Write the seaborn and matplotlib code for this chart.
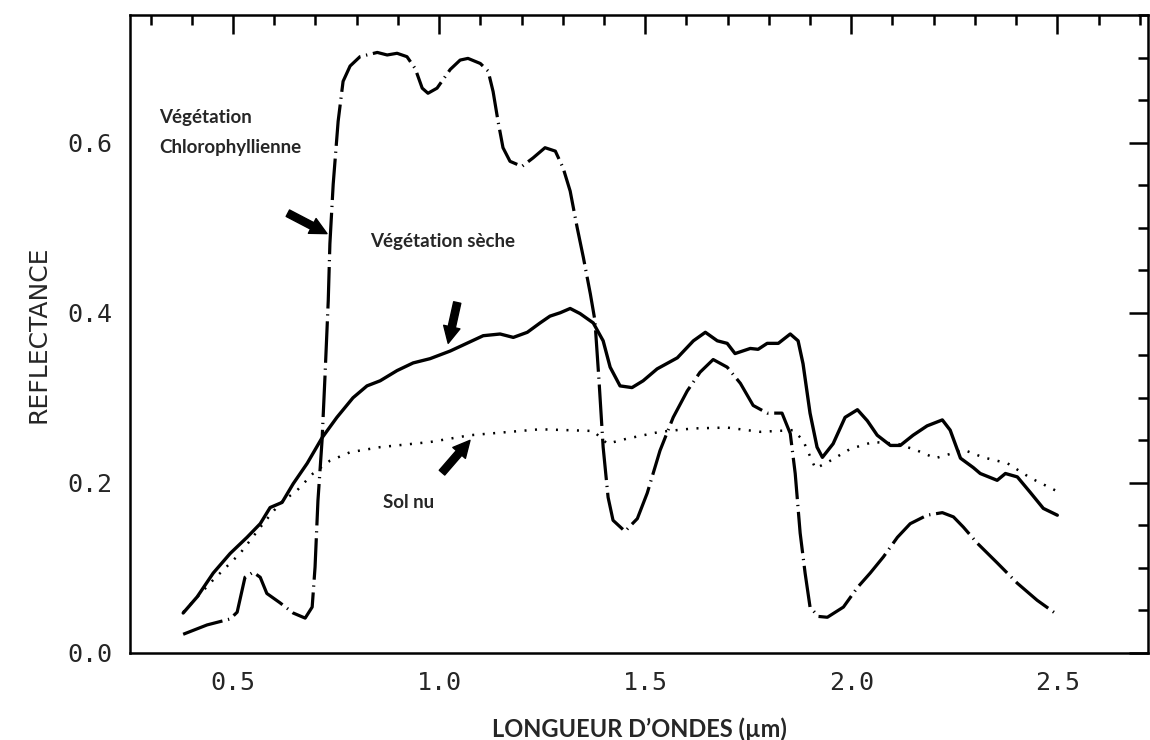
import numpy as np
import pandas as pd
import seaborn as sns
import matplotlib
matplotlib.use("Agg")
import matplotlib.pyplot as plt
from matplotlib.ticker import MultipleLocator

sns.set_theme(style="white")
plt.rcParams['font.family'] = ['DejaVu Sans']

# Végétation chlorophyllienne (dash-dot)
chloro_x = [0.379, 0.437, 0.493, 0.510, 0.529, 0.549, 0.566, 0.582, 0.614, 0.646,
            0.675, 0.692, 0.699, 0.706, 0.716, 0.723, 0.731, 0.735, 0.743, 0.755,
            0.767, 0.784, 0.808, 0.850, 0.874, 0.898, 0.922, 0.942, 0.959, 0.973,
            0.995, 1.027, 1.051, 1.070, 1.100, 1.119, 1.131, 1.143, 1.155, 1.172,
            1.201, 1.228, 1.257, 1.282, 1.301, 1.318, 1.335, 1.350, 1.367, 1.378,
            1.388, 1.398, 1.410, 1.422, 1.451, 1.481, 1.505, 1.536, 1.568, 1.602,
            1.633, 1.665, 1.699, 1.731, 1.762, 1.796, 1.832, 1.852, 1.864, 1.876,
            1.888, 1.900, 1.920, 1.942, 1.981, 2.015, 2.046, 2.078, 2.112, 2.143,
            2.184, 2.221, 2.248, 2.272, 2.306, 2.354, 2.403, 2.451, 2.500]
chloro_y = [0.022, 0.033, 0.040, 0.048, 0.089, 0.095, 0.089, 0.070, 0.059, 0.047,
            0.041, 0.054, 0.101, 0.179, 0.250, 0.324, 0.414, 0.481, 0.551, 0.625,
            0.672, 0.690, 0.701, 0.706, 0.703, 0.705, 0.701, 0.687, 0.664, 0.658,
            0.664, 0.686, 0.697, 0.699, 0.693, 0.684, 0.660, 0.625, 0.594, 0.578,
            0.572, 0.582, 0.594, 0.590, 0.570, 0.543, 0.500, 0.465, 0.422, 0.391,
            0.320, 0.242, 0.183, 0.156, 0.143, 0.158, 0.188, 0.238, 0.277, 0.308,
            0.330, 0.345, 0.336, 0.317, 0.291, 0.282, 0.282, 0.258, 0.211, 0.141,
            0.094, 0.054, 0.043, 0.042, 0.054, 0.077, 0.094, 0.113, 0.136, 0.152,
            0.162, 0.165, 0.160, 0.148, 0.129, 0.106, 0.082, 0.062, 0.045]

# Végétation sèche (solid)
seche_x = [0.379, 0.413, 0.452, 0.493, 0.534, 0.566, 0.590, 0.619, 0.646, 0.680,
           0.716, 0.752, 0.791, 0.825, 0.857, 0.898, 0.937, 0.978, 1.027, 1.107,
           1.148, 1.180, 1.214, 1.245, 1.269, 1.294, 1.318, 1.342, 1.374, 1.398,
           1.415, 1.439, 1.468, 1.495, 1.529, 1.578, 1.617, 1.646, 1.675, 1.699,
           1.718, 1.755, 1.774, 1.796, 1.823, 1.852, 1.871, 1.883, 1.900, 1.917,
           1.930, 1.956, 1.985, 2.015, 2.039, 2.063, 2.095, 2.119, 2.150, 2.184,
           2.221, 2.240, 2.265, 2.296, 2.313, 2.354, 2.374, 2.403, 2.434, 2.466,
           2.500]
seche_y = [0.047, 0.066, 0.094, 0.117, 0.136, 0.152, 0.171, 0.177, 0.199, 0.223,
           0.253, 0.277, 0.300, 0.314, 0.320, 0.332, 0.341, 0.346, 0.355, 0.373,
           0.375, 0.371, 0.377, 0.388, 0.396, 0.400, 0.405, 0.399, 0.388, 0.367,
           0.336, 0.314, 0.312, 0.320, 0.334, 0.347, 0.367, 0.377, 0.367, 0.364,
           0.352, 0.358, 0.357, 0.364, 0.364, 0.375, 0.367, 0.340, 0.282, 0.242,
           0.230, 0.246, 0.277, 0.286, 0.273, 0.256, 0.244, 0.244, 0.256, 0.267,
           0.274, 0.262, 0.229, 0.218, 0.211, 0.203, 0.211, 0.207, 0.189, 0.170,
           0.162]

# Sol nu (dotted)
sol_x = [0.379, 0.452, 0.517, 0.573, 0.614, 0.655, 0.694, 0.735, 0.784, 0.857,
         0.978, 1.075, 1.245, 1.374, 1.408, 1.456, 1.536, 1.617, 1.699, 1.779,
         1.859, 1.883, 1.913, 1.942, 1.998, 2.053, 2.112, 2.160, 2.204, 2.240,
         2.272, 2.320, 2.379, 2.434, 2.500]
sol_y = [0.048, 0.086, 0.117, 0.152, 0.176, 0.191, 0.211, 0.226, 0.236, 0.242,
         0.248, 0.256, 0.263, 0.261, 0.246, 0.252, 0.260, 0.264, 0.265, 0.260,
         0.262, 0.250, 0.217, 0.224, 0.240, 0.248, 0.246, 0.238, 0.229, 0.234,
         0.239, 0.230, 0.223, 0.206, 0.190]

x_ticks = [0.5, 1.0, 1.5, 2.0, 2.5]
y_ticks = [0.0, 0.2, 0.4, 0.6]

fig = plt.figure(figsize=(11.5, 7.4), dpi=100)
ax = fig.add_axes([130 / 1150, 1 - 653 / 740, (1148 - 130) / 1150, (653 - 15) / 740])

df_chloro = pd.DataFrame({'wl': chloro_x, 'refl': chloro_y})
df_seche = pd.DataFrame({'wl': seche_x, 'refl': seche_y})
df_sol = pd.DataFrame({'wl': sol_x, 'refl': sol_y})

sns.lineplot(data=df_chloro, x='wl', y='refl', ax=ax, color='black', lw=2.3,
             linestyle=(0, (13, 1.8, 0.4, 1.8)), sort=False, estimator=None,
             solid_joinstyle='round', dash_joinstyle='round')
sns.lineplot(data=df_seche, x='wl', y='refl', ax=ax, color='black', lw=2.4,
             sort=False, estimator=None, solid_joinstyle='round')
sns.lineplot(data=df_sol, x='wl', y='refl', ax=ax, color='black', lw=1.8,
             linestyle=(0, (0.8, 3.4)), sort=False, estimator=None)

ax.set_xlim(0.25, 2.72)
ax.set_ylim(0, 0.75)
ax.set_xticks(x_ticks)
ax.set_yticks(y_ticks)
ax.set_xticklabels([f"{v:.1f}" for v in x_ticks], family='DejaVu Sans Mono', fontsize=18)
ax.set_yticklabels([f"{v:.1f}" for v in y_ticks], family='DejaVu Sans Mono', fontsize=18)
ax.xaxis.set_minor_locator(MultipleLocator(0.1))
ax.yaxis.set_minor_locator(MultipleLocator(0.05))
ax.tick_params(which='both', direction='in', top=True, right=True, color='black', width=1.8)
ax.tick_params(which='major', length=14, pad=13)
ax.tick_params(which='minor', length=7.5)
for s in ax.spines.values():
    s.set_linewidth(1.8)
    s.set_color('black')

ax.set_xlabel("LONGUEUR D’ONDES (µm)", family='Lato', fontweight='bold', fontsize=17, labelpad=16)
ax.set_ylabel("REFLECTANCE", fontsize=18, labelpad=12)

lbl = dict(family='Lato', fontweight='bold', fontsize=13.5, va='center', ha='left')
ax.text(0.320, 0.629, "Végétation", **lbl)
ax.text(0.320, 0.594, "Chlorophyllienne", **lbl)
ax.text(0.833, 0.484, "Végétation sèche", **lbl)
ax.text(0.864, 0.177, "Sol nu", **lbl)

arrow = dict(arrowstyle="simple,head_length=0.8,head_width=0.8,tail_width=0.35",
             color='black', shrinkA=0, shrinkB=0, mutation_scale=15)
ax.annotate("", xy=(0.728, 0.493), xytext=(0.633, 0.517), arrowprops=arrow)
ax.annotate("", xy=(1.022, 0.364), xytext=(1.044, 0.412), arrowprops=arrow)
ax.annotate("", xy=(1.075, 0.250), xytext=(1.007, 0.212), arrowprops=arrow)

fig.savefig("out.png", dpi=100, facecolor='white')
